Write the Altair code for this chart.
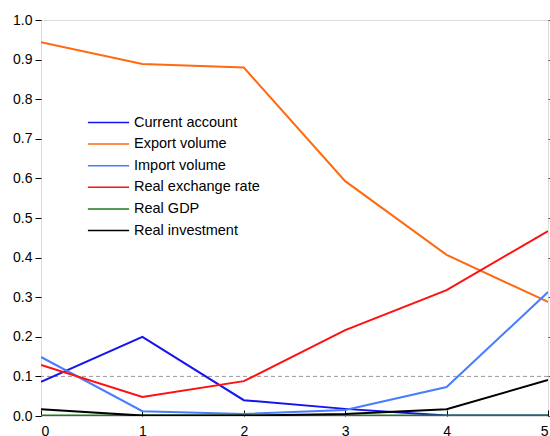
import altair as alt
import pandas as pd

horizons = [0, 1, 2, 3, 4, 5]
current_account = [0.086, 0.200, 0.040, 0.018, 0.001, 0.001]
export_volume = [0.944, 0.889, 0.880, 0.593, 0.407, 0.288]
import_volume = [0.149, 0.012, 0.005, 0.015, 0.073, 0.313]
real_exchange_rate = [0.129, 0.048, 0.088, 0.217, 0.318, 0.467]
real_gdp = [0.001, 0.001, 0.001, 0.001, 0.001, 0.001]
real_investment = [0.017, 0.001, 0.001, 0.005, 0.017, 0.091]
threshold = [0.1]

series_names = ["Current account", "Export volume", "Import volume",
                "Real exchange rate", "Real GDP", "Real investment"]
series_values = [current_account, export_volume, import_volume,
                 real_exchange_rate, real_gdp, real_investment]
series_colors = ["#1414f0", "#ff6a10", "#4a7cff", "#ff1010", "#1f7a1f", "#000000"]

rows = []
for name, vals in zip(series_names, series_values):
    for h, v in zip(horizons, vals):
        rows.append({"h": h, "v": v, "series": name})
df = pd.DataFrame(rows)

FONT = "Liberation Sans"
xscale = alt.Scale(domain=[0, 5], nice=False)
yscale = alt.Scale(domain=[0, 1], nice=False)

major = [round(i * 0.1, 1) for i in range(11)]
minor = [round(0.05 + i * 0.1, 2) for i in range(10)]

lines = alt.Chart(df).mark_line(strokeWidth=2, clip=True).encode(
    x=alt.X("h:Q", scale=xscale,
            axis=alt.Axis(values=horizons, format="d", title=None, tickSize=6,
                          offset=-6, domain=False, tickColor="#000",
                          labelFont=FONT, labelFontSize=14, labelColor="#000",
                          labelPadding=8, grid=False, orient="bottom")),
    y=alt.Y("v:Q", scale=yscale,
            axis=alt.Axis(values=major, format=".1f", title=None, tickSize=6,
                          domain=False, tickColor="#000", labelFont=FONT,
                          labelFontSize=14, labelColor="#000", labelPadding=3,
                          grid=False)),
    color=alt.Color("series:N",
                    scale=alt.Scale(domain=series_names, range=series_colors),
                    legend=alt.Legend(title=None, orient="none", legendX=56, legendY=91,
                                      symbolType="M-2,0L2,0", symbolSize=425,
                                      symbolStrokeWidth=1.5, labelFont=FONT,
                                      labelFontSize=14.5, labelColor="#000",
                                      rowPadding=3.6, labelOffset=14,
                                      labelLimit=300)),
)

minor_axis = alt.Chart(pd.DataFrame({"v": minor})).mark_point(opacity=0).encode(
    y=alt.Y("v:Q", scale=yscale,
            axis=alt.Axis(values=minor, labels=False, title=None, tickSize=2,
                          offset=4, domain=False, tickColor="#000", grid=False))
)

right_axis = alt.Chart(pd.DataFrame({"v": major})).mark_point(opacity=0).encode(
    y=alt.Y("v:Q", scale=yscale,
            axis=alt.Axis(values=major, labels=False, title=None, tickSize=3,
                          orient="right", domain=False, tickColor="#444", grid=False))
)

ref = alt.Chart(pd.DataFrame({"v": threshold})).mark_rule(
    color="#999999", strokeDash=[4, 3], strokeWidth=1
).encode(y=alt.Y("v:Q", scale=yscale, axis=None))

chart = alt.layer(ref, lines, minor_axis, right_axis).resolve_scale(
    y="independent"
).resolve_axis(y="independent").properties(
    width=507, height=396,
    autosize=alt.AutoSizeParams(type="none"),
    padding={"left": 41, "top": 20, "right": 2, "bottom": 20},
).configure_view(stroke=None).configure(background="white")

chart.save("out.html", embed_options={"renderer": "svg", "actions": False})
